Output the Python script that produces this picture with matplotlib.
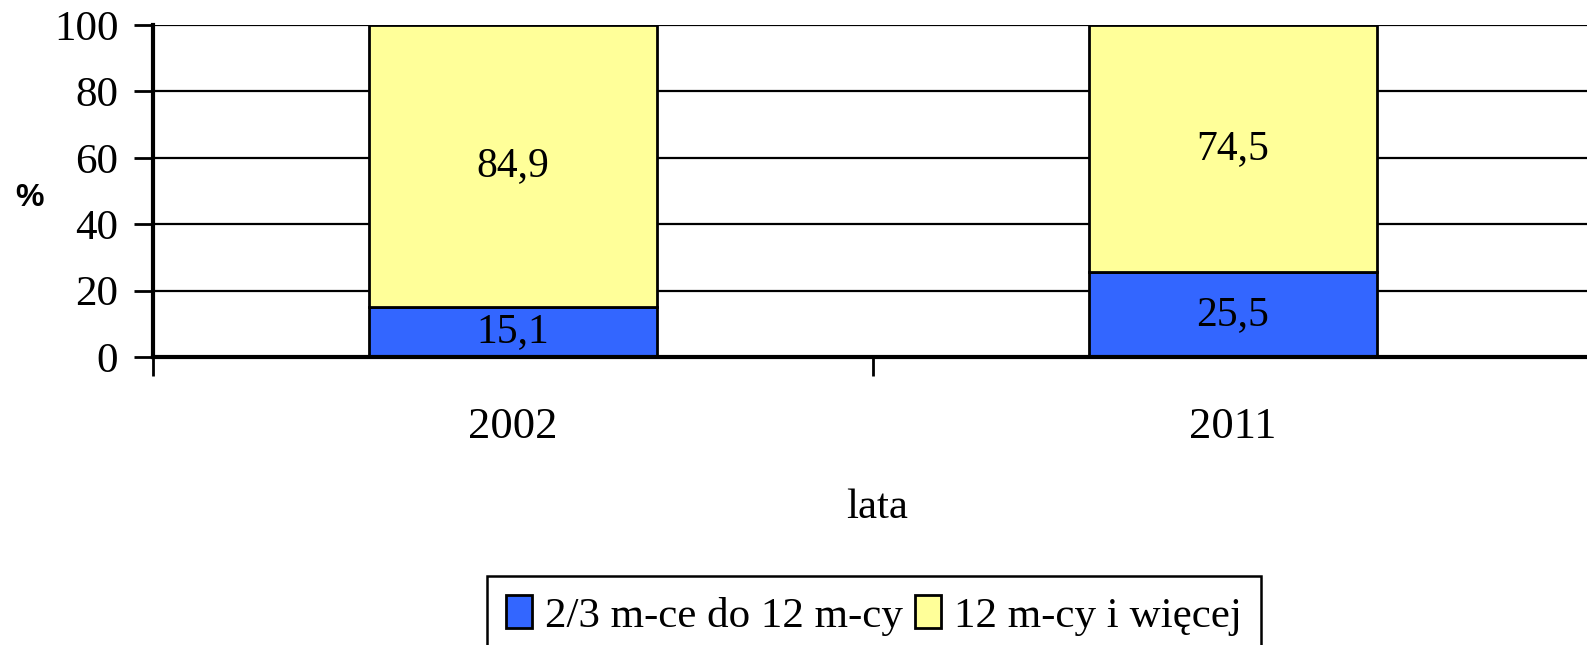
import matplotlib.pyplot as plt
from matplotlib.patches import Patch

# data
years = ["2002", "2011"]
short_stay = [15.1, 25.5]   # 2/3 m-ce do 12 m-cy
long_stay = [84.9, 74.5]    # 12 m-cy i więcej
series_names = ["2/3 m-ce do 12 m-cy", "12 m-cy i więcej"]
y_ticks = [0, 20, 40, 60, 80, 100]

blue = "#3366FF"
yellow = "#FFFF99"
serif = "Liberation Serif"

W, H = 1587, 645
fig = plt.figure(figsize=(W / 100, H / 100), dpi=100)
ax = fig.add_axes([153 / W, 1 - 357 / H, 1440 / W, 332 / H])

pos = [i + 0.5 for i in range(len(years))]
ax.bar(pos, short_stay, width=0.4, color=blue, edgecolor="black", linewidth=2, zorder=3)
ax.bar(pos, long_stay, width=0.4, bottom=short_stay, color=yellow,
       edgecolor="black", linewidth=2, zorder=3)

# value labels in the middle of each segment
for x, a, b in zip(pos, short_stay, long_stay):
    ax.text(x, a / 2, f"{a:.1f}".replace(".", ","), ha="center", va="center",
            fontsize=30, family=serif, zorder=4)
    ax.text(x, a + b / 2, f"{b:.1f}".replace(".", ","), ha="center", va="center",
            fontsize=30, family=serif, zorder=4)

ax.set_xlim(0, 2)
ax.set_ylim(0, 100)
ax.set_yticks(y_ticks)
ax.set_yticklabels([str(t) for t in y_ticks], fontsize=31, family=serif)
ax.yaxis.grid(True, color="black", linewidth=1.6, zorder=0)
ax.tick_params(axis="y", length=14, width=2, pad=11)

# category ticks between the groups, labels at the centres
ax.set_xticks([0, 1])
ax.set_xticklabels([])
ax.set_xticks(pos, minor=True)
ax.set_xticklabels(years, minor=True, fontsize=32, family=serif)
ax.tick_params(axis="x", which="major", length=14, width=2)
ax.tick_params(axis="x", which="minor", length=0, pad=36)

for side in ["top", "right"]:
    ax.spines[side].set_visible(False)
ax.spines["left"].set_linewidth(3)
ax.spines["bottom"].set_linewidth(3)
ax.spines["bottom"].set_zorder(5)

fig.text(30 / W, 1 - 198 / H, "%", fontsize=23, fontweight="bold",
         family="Liberation Sans", ha="center", va="center")
fig.text(877 / W, 1 - 508 / H, "lata", fontsize=31, family=serif,
         ha="center", va="center")

handles = [Patch(facecolor=blue, edgecolor="black", linewidth=2),
           Patch(facecolor=yellow, edgecolor="black", linewidth=2)]
leg = fig.legend(handles, series_names, loc="upper center",
                 bbox_to_anchor=(874 / W, 1 - 576 / H), ncol=2,
                 prop={"family": serif, "size": 31}, fancybox=False,
                 frameon=True, framealpha=1, edgecolor="black",
                 handlelength=0.6, handleheight=0.8, handletextpad=0.3,
                 columnspacing=0.3, borderpad=0.45, borderaxespad=0)
leg.get_frame().set_linewidth(1.8)

fig.savefig("out.png", dpi=100)
